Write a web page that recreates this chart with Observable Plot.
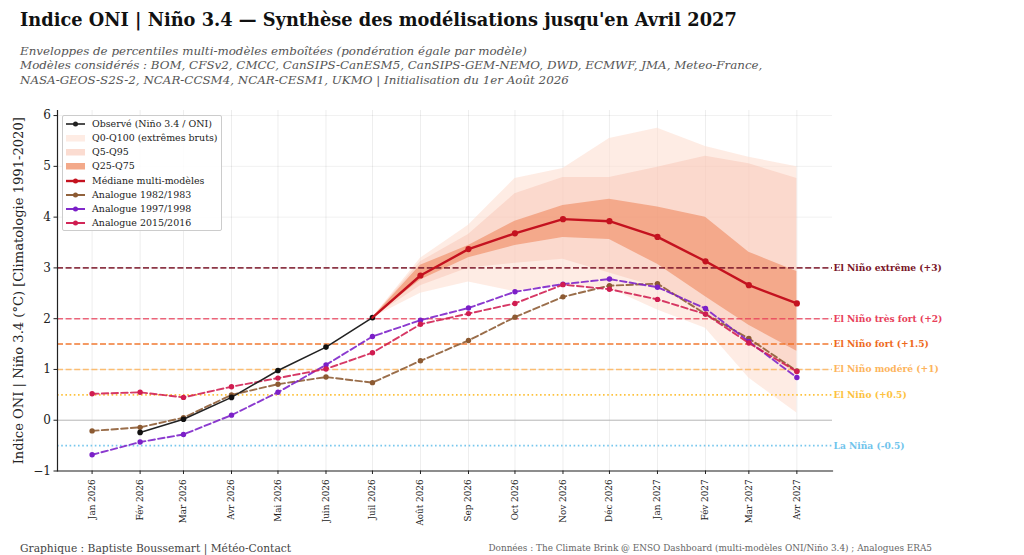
<!DOCTYPE html>
<html lang="fr">
<head>
<meta charset="utf-8">
<script src="https://cdn.jsdelivr.net/npm/d3@7"></script>
<script src="https://cdn.jsdelivr.net/npm/@observablehq/plot@0.6"></script>
<style>
html,body{margin:0;padding:0;background:#fff;width:1024px;height:555px;overflow:hidden;font-family:"DejaVu Serif",serif}
#page{position:relative;width:1024px;height:555px}
#title{position:absolute;left:20px;top:8px;font-size:17.8px;font-weight:bold;color:#111;white-space:nowrap;line-height:24px}
#sub{position:absolute;left:20px;top:44px;font-size:11.87px;font-style:italic;color:#555;line-height:14.3px;white-space:nowrap}
#chart{position:absolute;left:0;top:100px}
#chart svg{display:block}
#legend{position:absolute;left:62px;top:115px;width:158px;height:114px;border:1px solid #ccc;border-radius:2px;background:rgba(255,255,255,.85);font-size:9.45px;color:#222}
.row{position:absolute;left:3px;height:14px;line-height:14px;white-space:nowrap}
.row svg{position:absolute;left:0;top:0}
.row span{position:absolute;left:26px;top:0}
#fl{position:absolute;left:20px;top:542px;font-size:10.7px;color:#444;white-space:nowrap}
#fr{position:absolute;right:92px;top:543px;font-size:8.9px;color:#666;white-space:nowrap}
g[aria-label="y-axis label"] text{font-size:13.1px}
</style>
</head>
<body>
<div id="page">
<div id="title">Indice ONI | Niño 3.4 — Synthèse des modélisations jusqu'en Avril 2027</div>
<div id="sub">Enveloppes de percentiles multi-modèles emboîtées (pondération égale par modèle)<br>Modèles considérés : BOM, CFSv2, CMCC, CanSIPS-CanESM5, CanSIPS-GEM-NEMO, DWD, ECMWF, JMA, Meteo-France,<br>NASA-GEOS-S2S-2, NCAR-CCSM4, NCAR-CESM1, UKMO | Initialisation du 1er Août 2026</div>
<div id="chart"></div>
<div id="legend"></div>
<div id="fl">Graphique : Baptiste Boussemart | Météo-Contact</div>
<div id="fr">Données : The Climate Brink @ ENSO Dashboard (multi-modèles ONI/Niño 3.4) ; Analogues ERA5</div>
</div>
<script>
const months = ["2026-01-01","2026-02-01","2026-03-01","2026-04-01","2026-05-01","2026-06-01","2026-07-01","2026-08-01","2026-09-01","2026-10-01","2026-11-01","2026-12-01","2027-01-01","2027-02-01","2027-03-01","2027-04-01"];
const monthLabels = ["Jan 2026","Fév 2026","Mar 2026","Avr 2026","Mai 2026","Juin 2026","Juil 2026","Août 2026","Sep 2026","Oct 2026","Nov 2026","Déc 2026","Jan 2027","Fév 2027","Mar 2027","Avr 2027"];
const observed = [null,-0.24,0.02,0.45,0.98,1.44,2.02];
const a1982 = [-0.21,-0.14,0.05,0.50,0.71,0.85,0.74,1.17,1.57,2.03,2.43,2.65,2.69,2.09,1.61,0.97];
const a1997 = [-0.68,-0.43,-0.28,0.10,0.55,1.09,1.65,1.97,2.21,2.53,2.68,2.78,2.62,2.20,1.55,0.84];
const a2015 = [0.52,0.55,0.45,0.66,0.83,1.01,1.33,1.89,2.10,2.30,2.67,2.58,2.38,2.09,1.52,0.96];
// forecast series start at Juil 2026 (index 6)
const median = [2.02,2.85,3.37,3.68,3.96,3.92,3.61,3.13,2.66,2.30];
const q0  = [2.02,2.50,2.72,2.53,2.68,2.60,2.17,1.81,0.83,0.14];
const q5  = [2.02,2.65,3.00,3.09,3.17,2.90,2.62,2.10,1.54,0.90];
const q25 = [2.02,2.76,3.20,3.44,3.60,3.56,3.07,2.43,1.87,1.36];
const q75 = [2.02,3.05,3.44,3.92,4.23,4.35,4.20,4.00,3.31,2.93];
const q95 = [2.02,3.12,3.66,4.46,4.78,4.78,4.98,5.20,5.05,4.76];
const q100= [2.02,3.19,3.84,4.76,4.96,5.55,5.75,5.39,5.18,4.99];
const thresholdValues = [3,2,1.5,1,0.5,-0.5];
const thresholdLabels = ["El Niño extrême (+3)","El Niño très fort (+2)","El Niño fort (+1.5)","El Niño modéré (+1)","El Niño (+0.5)","La Niña (-0.5)"];
const thresholdColors = ["#7a1528","#e8405a","#ee6a1c","#fdb45c","#fdc23e","#70c4ec"];
const thresholdDash = ["6 2.6","6 2.6","6 2.6","6 2.6","1.6 2.6","1.6 2.6"];
const thresholdLine = [0.85,0.8,0.9,0.85,1,0.95];
const yTicks = [-1,0,1,2,3,4,5,6];

const dates = months.map(d => new Date(d + "T00:00:00Z"));
const fc = dates.slice(6).map((date,i)=>({date,median:median[i],q0:q0[i],q5:q5[i],q25:q25[i],q75:q75[i],q95:q95[i],q100:q100[i]}));
const series = (arr, off=0) => arr.map((v,i)=>({date:dates[i+off],v})).filter(d=>d.v!=null);
const thresholds = thresholdValues.map((v,i)=>({v,label:thresholdLabels[i],color:thresholdColors[i],dash:thresholdDash[i],op:thresholdLine[i]}));
const band = (y1,y2,fill,fillOpacity)=>Plot.areaY(fc,{x:"date",y1,y2,fill,fillOpacity});
const analog = (arr,color)=>[
  Plot.line(series(arr),{x:"date",y:"v",stroke:color,strokeWidth:1.9,strokeDasharray:"6.5 3.2",strokeOpacity:.88}),
  Plot.dot(series(arr),{x:"date",y:"v",fill:color,r:2.7})
];
const xDomainEnd = new Date("2027-04-24T00:00:00Z");

const chart = Plot.plot({
  width:1024, height:440,
  marginLeft:57, marginRight:192, marginTop:10, marginBottom:69.5,
  style:{fontFamily:"'DejaVu Serif',serif",background:"transparent"},
  x:{type:"utc",domain:[new Date("2025-12-09T16:00:00Z"),xDomainEnd]},
  y:{domain:[-1,6.1]},
  marks:[
    Plot.ruleX(dates,{stroke:"#000",strokeOpacity:.07,strokeWidth:1}),
    Plot.ruleY(yTicks,{stroke:"#000",strokeOpacity:.06,strokeWidth:1}),
    band("q0","q100","#fee0d2",.6),
    band("q5","q95","#f6b6a4",.36),
    band("q25","q75","#ef8a62",.62),
    Plot.ruleY([0],{stroke:"#bbb",strokeWidth:1}),
    thresholds.map(t=>Plot.ruleY([t.v],{stroke:t.color,strokeDasharray:t.dash,strokeOpacity:t.op,strokeWidth:1.6})),
    Plot.text(thresholds,{x:()=>xDomainEnd,y:"v",text:"label",fill:"color",textAnchor:"start",dx:1,fontSize:9.1,fontWeight:"bold"}),
    ...analog(a1982,"#8c5a32"),
    ...analog(a1997,"#7b1fc8"),
    ...analog(a2015,"#d01c50"),
    Plot.line(series(observed),{x:"date",y:"v",stroke:"#222",strokeWidth:1.6}),
    Plot.dot(series(observed),{x:"date",y:"v",fill:"#111",r:2.8}),
    Plot.line(fc,{x:"date",y:"median",stroke:"#c4121f",strokeWidth:2.4}),
    Plot.dot(fc.slice(1),{x:"date",y:"median",fill:"#c4121f",r:3.1}),
    Plot.frame({anchor:"left",stroke:"#222",strokeWidth:1.2}),
    Plot.frame({anchor:"bottom",stroke:"#222",strokeWidth:1.2}),
    Plot.axisY({ticks:yTicks,tickFormat:d=>d<0?"−"+(-d):String(d),tickSize:3.5,tickPadding:3,fontSize:12,color:"#222",
      label:"Indice ONI | Niño 3.4 (°C) [Climatologie 1991-2020]",labelAnchor:"center",labelArrow:"none",labelOffset:44}),
    Plot.axisX({ticks:dates,tickFormat:d=>monthLabels[dates.findIndex(e=>+e===+d)],tickRotate:-90,tickSize:3.5,tickPadding:5,fontSize:8.8,color:"#222",label:null})
  ]
});
document.getElementById("chart").appendChild(chart);

const legendItems = [
  {label:"Observé (Niño 3.4 / ONI)",type:"line",color:"#222",w:1.6},
  {label:"Q0-Q100 (extrêmes bruts)",type:"band",color:"#feece4"},
  {label:"Q5-Q95",type:"band",color:"#fbdcd1"},
  {label:"Q25-Q75",type:"band",color:"#f3a98a"},
  {label:"Médiane multi-modèles",type:"line",color:"#c4121f",w:2.4},
  {label:"Analogue 1982/1983",type:"line",color:"#8c5a32",w:1.9},
  {label:"Analogue 1997/1998",type:"line",color:"#7b1fc8",w:1.9},
  {label:"Analogue 2015/2016",type:"line",color:"#d01c50",w:1.9}
];
const legend = document.getElementById("legend");
legendItems.forEach((it,i)=>{
  const glyph = it.type==="band"
    ? `<rect x="0" y="4" width="19" height="6.5" fill="${it.color}"/>`
    : `<line x1="0" x2="19" y1="7" y2="7" stroke="${it.color}" stroke-width="${it.w}"/><circle cx="9.5" cy="7" r="2.5" fill="${it.color}"/>`;
  const row = document.createElement("div");
  row.className = "row";
  row.style.top = (0.5 + i*14.25) + "px";
  row.innerHTML = `<svg width="20" height="14">${glyph}</svg><span>${it.label}</span>`;
  legend.appendChild(row);
});
</script>
</body>
</html>
